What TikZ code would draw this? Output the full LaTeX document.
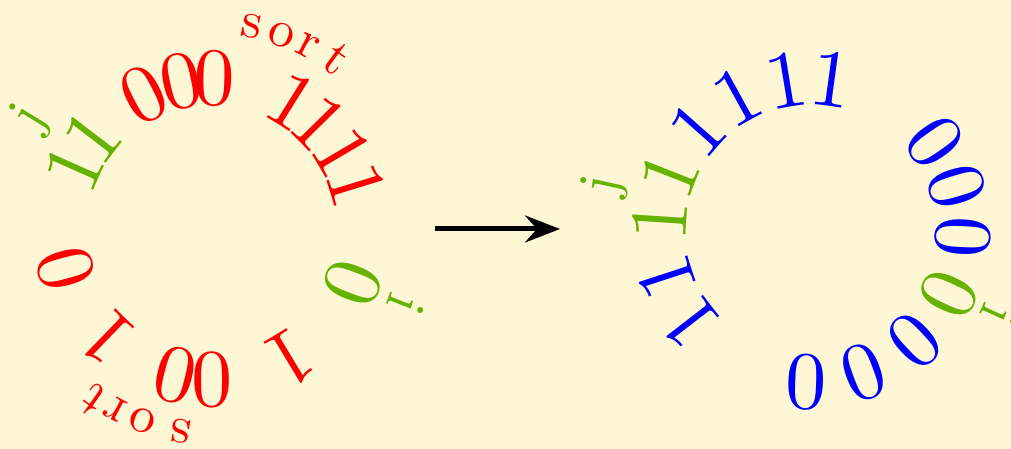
\documentclass[tikz,border=0pt]{standalone}
\usepackage{fontspec}
\newfontfamily\lmten{lmroman10-regular.otf}
\usetikzlibrary{arrows.meta}
\definecolor{paper}{RGB}{253,247,214}
\definecolor{grn}{RGB}{102,178,0}
\begin{document}
\begin{tikzpicture}[x=1pt,y=1pt,
  digit/.style={font={\lmten\fontsize{82}{82}\selectfont}, inner sep=0pt, anchor=center},
  tag/.style={font={\lmten\fontsize{52}{52}\selectfont}, inner sep=0pt},
  index/.style={font={\lmten\fontsize{57}{57}\selectfont}, inner sep=0pt, text=grn},
  flow/.style={line width=5pt, -{Stealth[length=35pt,width=27pt,inset=12pt]}}]
\fill[paper] (0,0) rectangle (1011,449);
\useasboundingbox (0,0) rectangle (1011,449);
\coordinate (CL) at (212,220);
\coordinate (CR) at (811,219);

% left ring: digits, clockwise from the left
\foreach \ang/\ch/\col [count=\k] in
  {156/1/grn, 142.5/1/grn, 117/0/red, 102/0/red, 89/0/red,
   58/1/red, 44.5/1/red, 30.5/1/red, 17/1/red,
   -21/0/grn, -59/1/red, -90/0/red, -104/0/red, -134/1/red, -165/0/red}
  \node[digit, text=\col, rotate=\ang-90] (L\k) at ([shift={(\ang:151pt)}]CL) {\ch};

% left ring: outer labels
\foreach \ang/\ch [count=\k] in {78.9/s, 70.3/o, 62.3/r, 53.8/t}
  \node[tag, text=red, anchor=base, rotate=\ang-90] (S\k) at ([shift={(\ang:195pt)}]CL) {\ch};
\foreach \ang/\ch [count=\k] in {-98.8/s, -110/o, -118.2/r, -125.2/t}
  \node[tag, text=red, anchor=base, rotate=\ang-90] (T\k) at ([shift={(\ang:193pt)}]CL) {\ch};
\node[index, rotate=148.6-90] (Lj) at ([shift={(148.6:212pt)}]CL) {j};
\node[index, rotate=-21.5-90] (Li) at ([shift={(-21.5:208pt)}]CL) {i};

% right ring: digits, clockwise from the lower left
\foreach \ang/\ch/\col [count=\k] in
  {217.7/1/blue, 198.1/1/blue, 176.3/1/grn, 158.6/1/grn,
   138.5/1/blue, 118.8/1/blue, 99.3/1/blue, 82.2/1/blue,
   35.2/0/blue, 16.7/0/blue, -2.6/0/blue, -24.8/0/grn,
   -46.8/0/blue, -69.7/0/blue, -91.9/0/blue}
  \node[digit, text=\col, rotate=\ang-90] (R\k) at ([shift={(\ang:152pt)}]CR) {\ch};
\node[index, rotate=167.7-90] (Rj) at ([shift={(167.7:211pt)}]CR) {j};
\node[index, rotate=-24.5-90] (Ri) at ([shift={(-24.5:207pt)}]CR) {i};

% the step from one state to the next
\coordinate (A0) at (435,220);
\coordinate (A1) at (560,220);
\draw[flow] (A0) -- (A1);
\end{tikzpicture}
\end{document}
